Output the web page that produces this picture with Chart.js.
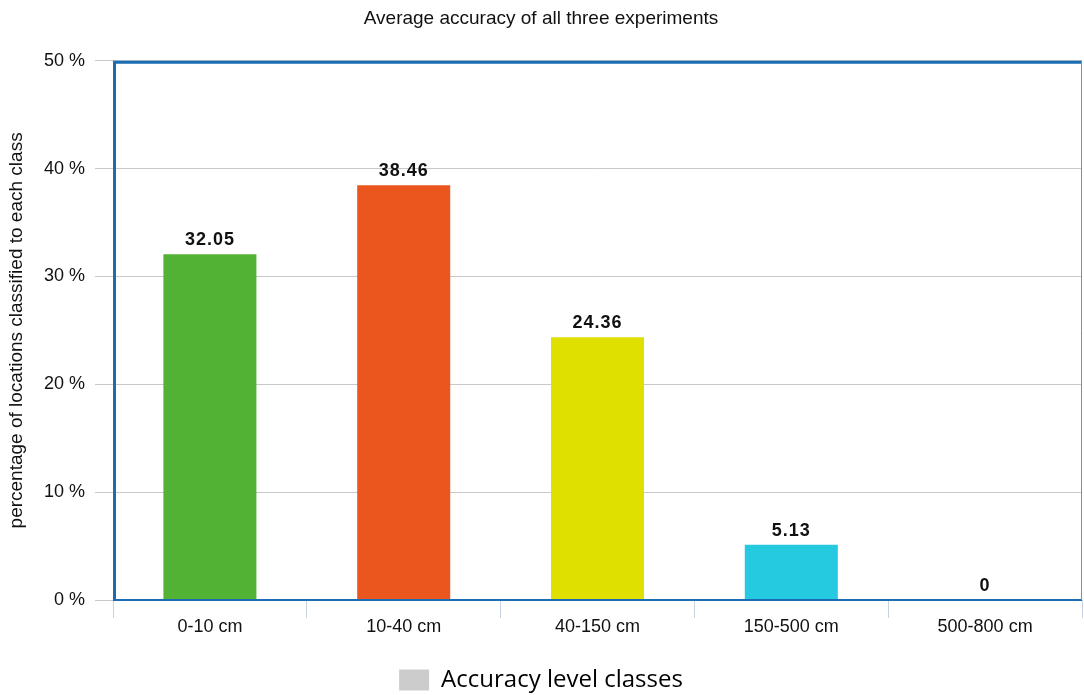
<!DOCTYPE html>
<html>
<head>
<meta charset="utf-8">
<script src="https://cdn.jsdelivr.net/npm/chart.js@4.4.1/dist/chart.umd.min.js"></script>
<style>
  body { margin: 0; background: #ffffff; }
</style>
</head>
<body>
<canvas id="chartPrecision" width="1084" height="695"></canvas>
<script>
// Datos del gráfico
const clases = ['0-10 cm', '10-40 cm', '40-150 cm', '150-500 cm', '500-800 cm'];
const porcentajes = [32.05, 38.46, 24.36, 5.13, 0];
const coloresBarras = ['#52b234', '#ea561e', '#dfdf00', '#25c9e0', '#8e8e8e'];
const ticksY = [0, 10, 20, 30, 40, 50];

const fuente = '"Liberation Sans", Arial, sans-serif';

// Plugin para las etiquetas de valor y el borde azul del área
const valoresYBorde = {
  id: 'valoresYBorde',
  afterDatasetsDraw(chart) {
    const ctx = chart.ctx;
    const area = chart.chartArea;
    const meta = chart.getDatasetMeta(0);
    ctx.save();
    ctx.font = 'bold 18px ' + fuente;
    ctx.letterSpacing = '1px';
    ctx.fillStyle = '#111111';
    ctx.textAlign = 'center';
    ctx.textBaseline = 'alphabetic';
    meta.data.forEach((bar, i) => {
      ctx.fillText(String(porcentajes[i]), bar.x, bar.y - 9);
    });
    ctx.restore();

    // Borde del área de trazado
    ctx.save();
    ctx.strokeStyle = '#1b6db3';
    ctx.lineWidth = 3;
    ctx.beginPath();
    ctx.moveTo(area.left + 1.5, area.bottom);
    ctx.lineTo(area.left + 1.5, area.top + 1.5);
    ctx.lineTo(area.right, area.top + 1.5);
    ctx.stroke();
    ctx.lineWidth = 2;
    ctx.beginPath();
    ctx.moveTo(area.left, area.bottom);
    ctx.lineTo(area.right, area.bottom);
    ctx.stroke();
    ctx.strokeStyle = '#5b9bd0';
    ctx.lineWidth = 1;
    ctx.beginPath();
    ctx.moveTo(area.right - 0.5, area.top);
    ctx.lineTo(area.right - 0.5, area.bottom);
    ctx.stroke();
    ctx.restore();
  }
};

const ctxBar = document.getElementById('chartPrecision');
const barChart = new Chart(ctxBar, {
  type: 'bar',
  data: {
    labels: clases,
    datasets: [{
      label: 'Accuracy level classes',
      data: porcentajes,
      backgroundColor: coloresBarras,
      borderWidth: 0,
      barPercentage: 0.48,
      categoryPercentage: 1
    }]
  },
  options: {
    responsive: false,
    animation: false,
    // el padding negativo abajo baja la leyenda hasta el borde
    layout: { padding: { left: 0, right: 2, top: 0, bottom: -7 } },
    plugins: {
      title: {
        display: true,
        text: 'Average accuracy of all three experiments',
        color: '#111111',
        font: { family: fuente, size: 19, weight: 'normal' },
        padding: { top: 7, bottom: 31 }
      },
      legend: {
        position: 'bottom',
        labels: {
          boxWidth: 30,
          boxHeight: 21,
          color: '#444444',
          font: { family: '"Open Sans", sans-serif', size: 24 },
          padding: 10,
          generateLabels: () => [{
            text: 'Accuracy level classes',
            fillStyle: '#cccccc',
            strokeStyle: '#cccccc',
            lineWidth: 0,
            datasetIndex: 0
          }]
        }
      },
      tooltip: { enabled: false }
    },
    scales: {
      x: {
        grid: {
          offset: true,
          drawOnChartArea: false,
          color: '#c5d3e2',
          tickLength: 18
        },
        border: { display: false },
        ticks: {
          color: '#111111',
          font: { family: fuente, size: 18 },
          padding: -2
        },
        afterFit: (scale) => { scale.height = 58; }
      },
      y: {
        min: 0,
        max: 50,
        afterBuildTicks: (scale) => { scale.ticks = ticksY.map(v => ({ value: v })); },
        grid: {
          color: '#c8c8c8',
          tickLength: 18
        },
        border: { display: false },
        ticks: {
          color: '#111111',
          font: { family: fuente, size: 18 },
          padding: 10,
          callback: (v) => v + ' %'
        },
        title: {
          display: true,
          text: 'percentage of locations classified to each class',
          color: '#111111',
          font: { family: fuente, size: 19 },
          padding: { top: 5, bottom: 4 }
        },
        afterFit: (scale) => { scale.width = 113; }
      }
    }
  },
  plugins: [valoresYBorde]
});
</script>
</body>
</html>
